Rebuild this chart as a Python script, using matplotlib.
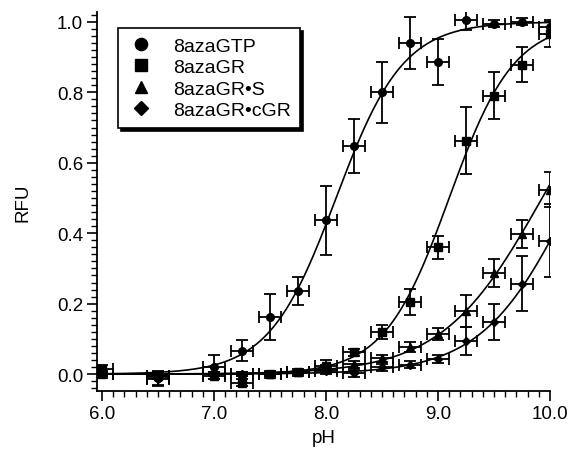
import numpy as np
import matplotlib
matplotlib.use("Agg")
import matplotlib.pyplot as plt
from matplotlib.ticker import MultipleLocator, FormatStrFormatter

plt.rcParams['font.family'] = ['Liberation Sans', 'DejaVu Sans']

ph = [6.0, 6.5, 7.0, 7.25, 7.5, 7.75, 8.0, 8.25, 8.5, 8.75, 9.0, 9.25, 9.5, 9.75, 10.0]

gtp = [0.0, -0.01, 0.02, 0.066, 0.162, 0.235, 0.437, 0.648, 0.80, 0.94, 0.885, 1.005, 0.995, 1.0, 0.985]
gtp_err = [0.01, 0.02, 0.035, 0.03, 0.065, 0.04, 0.098, 0.076, 0.086, 0.073, 0.065, 0.028, 0.01, 0.01, 0.02]

gr = [0.015, -0.005, -0.005, -0.025, 0.0, 0.005, 0.024, 0.0625, 0.12, 0.205, 0.36, 0.663, 0.79, 0.878, 0.965]
gr_err = [0.01, 0.01, 0.01, 0.01, 0.01, 0.01, 0.015, 0.01, 0.02, 0.038, 0.033, 0.094, 0.067, 0.05, 0.035]

grs = [0.0, -0.005, 0.0, 0.0, 0.0, 0.005, 0.015, 0.028, 0.045, 0.077, 0.114, 0.18, 0.287, 0.398, 0.524]
grs_err = [0.005, 0.01, 0.005, 0.005, 0.005, 0.005, 0.01, 0.01, 0.01, 0.015, 0.017, 0.045, 0.04, 0.04, 0.05]

grc = [0.0, -0.015, 0.0, 0.0, 0.0, 0.005, 0.01, 0.003, 0.02, 0.027, 0.043, 0.094, 0.148, 0.256, 0.379]
grc_err = [0.005, 0.02, 0.005, 0.005, 0.005, 0.005, 0.01, 0.01, 0.01, 0.01, 0.012, 0.04, 0.05, 0.078, 0.104]

ph_err = [0.1] * len(ph)

labels = ['8azaGTP', '8azaGR', '8azaGR\u2022S', '8azaGR\u2022cGR']
markers = ['o', 's', '^', 'D']
msizes = [5.5, 5.5, 5.5, 4.5]
# fitted Hill parameters (pKa, n)
fit_pka = [8.09, 9.10, 9.93, 10.20]
fit_n = [1.45, 1.5, 0.97, 1.08]

series = [gtp, gr, grs, grc]
errs = [gtp_err, gr_err, grs_err, grc_err]

fig = plt.figure(figsize=(5.71, 4.52), dpi=100)
ax = fig.add_axes([97/571, 1-392/452, 453/571, 379/452])

xs = np.linspace(6.0, 10.0, 300)
handles = []
for y, e, lab, m, ms, pka, n in zip(series, errs, labels, markers, msizes, fit_pka, fit_n):
    ax.errorbar(ph, y, yerr=e, xerr=ph_err, fmt=m, color='black', ms=ms,
                elinewidth=1.3, capsize=4.5, capthick=1.3, zorder=3)
    ax.plot(xs, 1.0 / (1.0 + 10 ** (n * (pka - xs))), color='black', lw=1.2, zorder=2)
    h, = ax.plot([], [], m, color='black', ms=ms * 1.6, linestyle='none', label=lab)
    handles.append(h)

ax.set_xlim(5.955, 10.0)
ax.set_ylim(-0.048, 1.028)
ax.xaxis.set_major_locator(MultipleLocator(1.0))
ax.xaxis.set_minor_locator(MultipleLocator(0.1))
ax.yaxis.set_major_locator(MultipleLocator(0.2))
ax.yaxis.set_minor_locator(MultipleLocator(0.02))
ax.xaxis.set_major_formatter(FormatStrFormatter('%.1f'))
ax.yaxis.set_major_formatter(FormatStrFormatter('%.1f'))
ax.tick_params(which='major', direction='out', length=7, width=1.2, labelsize=13.5, pad=3)
ax.tick_params(which='minor', direction='out', length=4, width=1.0)
for s in ['top', 'right']:
    ax.spines[s].set_visible(False)
for s in ['left', 'bottom']:
    ax.spines[s].set_linewidth(1.3)

ax.set_xlabel('pH', fontsize=13.5, labelpad=5)
ax.set_ylabel('RFU', fontsize=13.5, labelpad=18)

leg = ax.legend(handles=handles, loc='upper left', bbox_to_anchor=(0.046, 0.957),
                borderaxespad=0, fontsize=14, frameon=True, fancybox=False,
                shadow={'color': 'black', 'alpha': 1.0}, handletextpad=0.9,
                labelspacing=0.2, borderpad=0.45, handlelength=1.5)
leg.get_frame().set_edgecolor('black')
leg.get_frame().set_linewidth(1.2)

fig.savefig('out.png', dpi=100)
